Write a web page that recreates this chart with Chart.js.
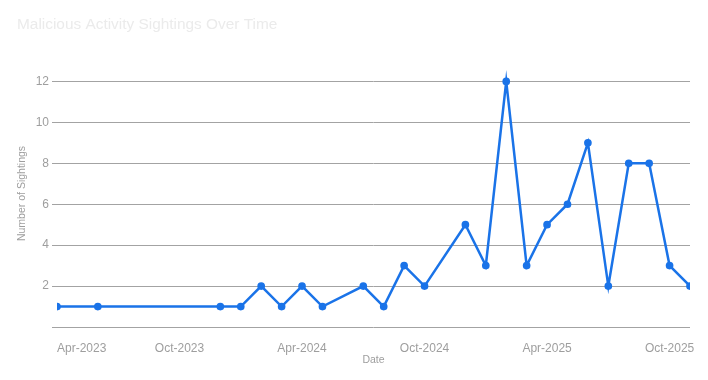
<!DOCTYPE html>
<html>
<head>
<meta charset="utf-8">
<title>Malicious Activity Sightings Over Time</title>
<script src="https://cdn.jsdelivr.net/npm/chart.js@4.4.1/dist/chart.umd.min.js"></script>
<style>
  html, body { margin: 0; padding: 0; background: #fff; }
  #wrap { width: 708px; height: 380px; }
</style>
</head>
<body>
<div id="wrap"><canvas id="chart" width="708" height="380"></canvas></div>
<script>
// ── Data ──────────────────────────────────────────────────
const months    = ['2023-04', '2023-06', '2023-12', '2024-01', '2024-02', '2024-03',
                   '2024-04', '2024-05', '2024-07', '2024-08', '2024-09', '2024-10',
                   '2024-12', '2025-01', '2025-02', '2025-03', '2025-04', '2025-05',
                   '2025-06', '2025-07', '2025-08', '2025-09', '2025-10', '2025-11'];
const sightings = [1, 1, 1, 1, 2, 1, 2, 1, 2, 1, 3, 2, 5, 3, 12, 3, 5, 6, 9, 2, 8, 8, 3, 2];

const tickMonths = ['2023-04', '2023-10', '2024-04', '2024-10', '2025-04', '2025-10'];
const tickLabels = ['Apr-2023', 'Oct-2023', 'Apr-2024', 'Oct-2024', 'Apr-2025', 'Oct-2025'];
const yTicks     = [0, 2, 4, 6, 8, 10, 12];

// months since the first data month
const start = months[0].split('-').map(Number);
function monthIndex(m) {
  const [y, mo] = m.split('-').map(Number);
  return (y - start[0]) * 12 + (mo - start[1]);
}

const points = months.map((m, i) => ({ x: monthIndex(m), y: sightings[i] }));
const xMax = monthIndex(months[months.length - 1]);

const GRID = '#a3a3a3';
const TEXT = '#9e9e9e';
const BLUE = '#1a73e8';
const FONT = '"Liberation Sans", Arial, sans-serif';

new Chart(document.getElementById('chart'), {
  type: 'line',
  data: {
    datasets: [{
      label: 'Sightings',
      data: points,
      borderColor: BLUE,
      backgroundColor: BLUE,
      borderWidth: 2.5,
      pointRadius: 2.6,
      pointHoverRadius: 2.6,
      tension: 0,
      clip: { left: 0, right: 0, top: false, bottom: false },
    }],
  },
  options: {
    responsive: false,
    animation: false,
    layout: { padding: { left: 17, right: 18, top: 0, bottom: 0 } },
    plugins: {
      legend: { display: false },
      tooltip: { enabled: false },
      title: {
        display: true,
        text: 'Malicious Activity Sightings Over Time',
        align: 'start',
        color: '#ebebeb',
        font: { family: FONT, size: 15.4, weight: 'normal' },
        padding: { top: 16, bottom: 25.5 },
      },
    },
    scales: {
      x: {
        type: 'linear',
        min: 0,
        max: xMax,
        afterBuildTicks: s => {
          s.ticks = tickMonths.map(m => ({ value: monthIndex(m) })).concat([{ value: xMax }]);
        },
        afterFit: s => { s.height = 53; },
        grid: { display: false },
        border: { display: false },
        ticks: {
          autoSkip: false,
          maxRotation: 0,
          align: 'inner',
          padding: 6,
          color: TEXT,
          font: { family: FONT, size: 12 },
          callback: v => {
            const i = tickMonths.findIndex(m => monthIndex(m) === v);
            return i >= 0 ? tickLabels[i] : '';
          },
        },
        title: {
          display: true,
          text: 'Date',
          color: TEXT,
          font: { family: FONT, size: 10.5 },
          padding: { top: 0, bottom: 14 },
        },
      },
      y: {
        min: 0,
        max: 13.05,
        afterBuildTicks: s => { s.ticks = yTicks.map(v => ({ value: v })); },
        afterFit: s => { s.width = 40; },
        grid: { color: GRID, lineWidth: 1, tickLength: 5, drawTicks: true },
        border: { display: false },
        ticks: {
          padding: 3,
          color: TEXT,
          font: { family: FONT, size: 12 },
          callback: v => (v === 0 ? '' : v),
        },
        title: {
          display: true,
          text: 'Number of Sightings',
          color: TEXT,
          font: { family: FONT, size: 10.5, lineHeight: 1 },
          padding: { top: 0, bottom: 0 },
        },
      },
    },
  },
});
</script>
</body>
</html>
